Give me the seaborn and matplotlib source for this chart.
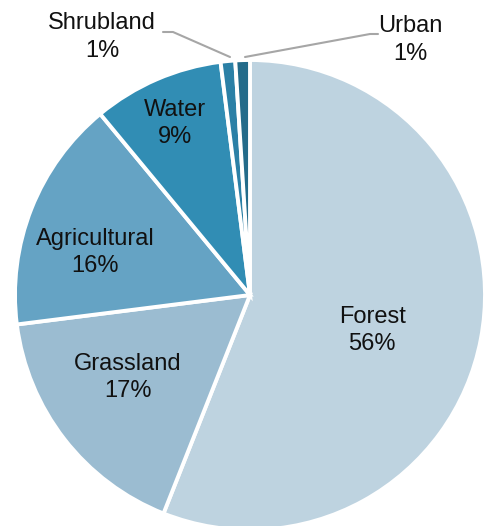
import numpy as np
import matplotlib
matplotlib.use('Agg')
import matplotlib.pyplot as plt
import seaborn as sns

sns.set_style('white')
plt.rcParams['font.family'] = ['Liberation Sans', 'DejaVu Sans']

# land cover shares, clockwise from 12 o'clock
labels = ['Forest', 'Grassland', 'Agricultural', 'Water', 'Shrubland', 'Urban']
shares = [56, 17, 16, 9, 1, 1]
colors = ['#bed3e0', '#9bbcd1', '#65a3c4', '#318db4', '#2b80a6', '#236b8a']

fig = plt.figure(figsize=(4.84, 5.26), dpi=100)
# pie centre ~ (250, 295) px, radius ~235 px
r_px = 235
ax = fig.add_axes([(250 - r_px) / 484, (526 - 295 - r_px) / 526,
                   2 * r_px / 484, 2 * r_px / 526])

wedges, _ = ax.pie(shares, colors=colors, startangle=90, counterclock=False,
                   radius=1, wedgeprops=dict(edgecolor='white', linewidth=2.8))
ax.set_xlim(-1, 1)
ax.set_ylim(-1, 1)
ax.set_aspect('equal')
ax.axis('off')

fs = 17
ls = 1.32

# inside labels
inside = {'Forest': (0.52, -0.15), 'Grassland': (-0.52, -0.35),
          'Agricultural': (-0.66, 0.18), 'Water': (-0.32, 0.73)}
for name, share in zip(labels, shares):
    if name in inside:
        x, y = inside[name]
        ax.text(x, y, f'{name}\n{share}%', ha='center', va='center',
                fontsize=fs, color='#111111', linespacing=ls)

# outside labels with leader lines
def px(x, y):
    return ((x - 250) / r_px, (295 - y) / r_px)

ax.text(*px(102, 37), 'Shrubland\n1%', ha='center', va='center',
        fontsize=fs, color='#111111', linespacing=ls)
ax.text(*px(410, 40), 'Urban\n1%', ha='center', va='center',
        fontsize=fs, color='#111111', linespacing=ls)

lx, ly = zip(px(163, 32), px(173, 32), px(230, 57))
ax.plot(lx, ly, color='#a6a6a6', lw=1.5, clip_on=False)
lx, ly = zip(px(378, 34), px(370, 34), px(245, 57))
ax.plot(lx, ly, color='#a6a6a6', lw=1.5, clip_on=False)

fig.savefig('out.png', dpi=100)
